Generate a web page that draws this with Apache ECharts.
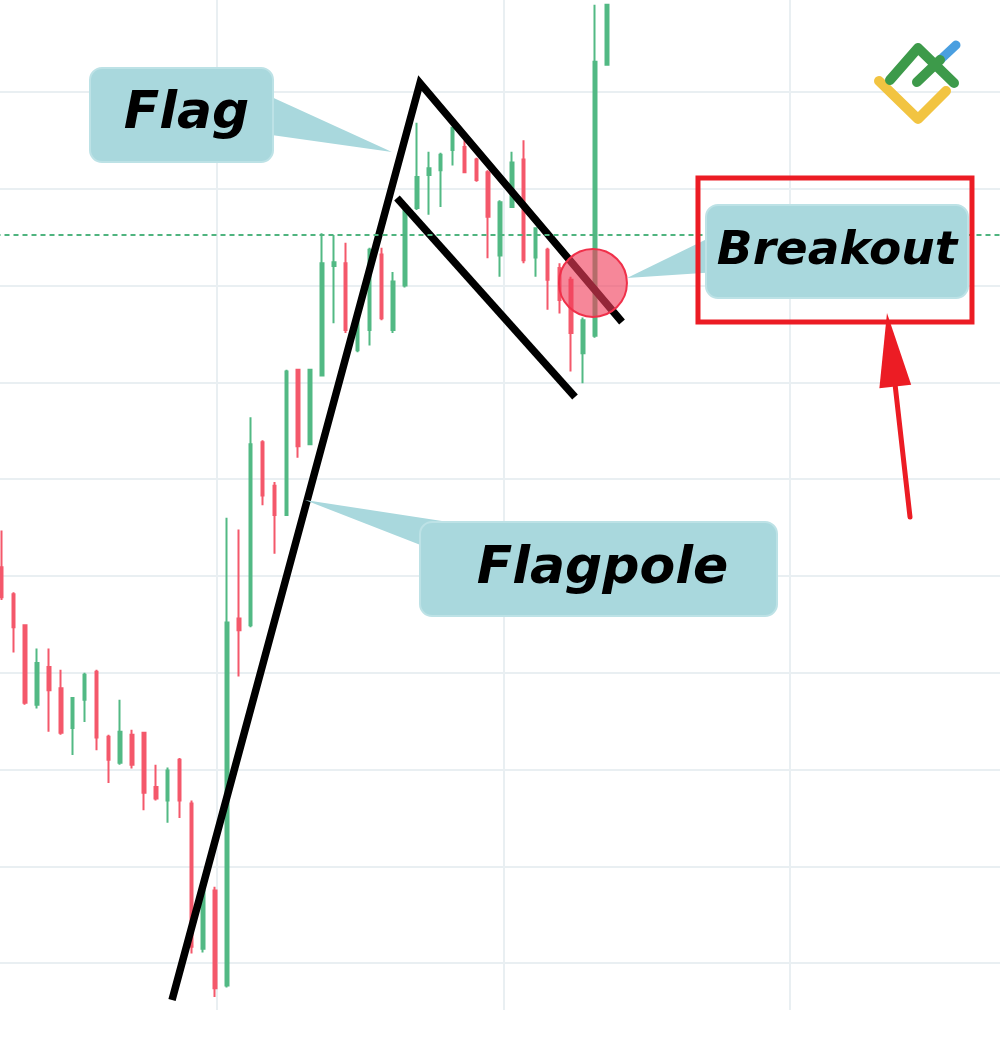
<!DOCTYPE html>
<html>
<head>
<meta charset="utf-8">
<script src="https://cdn.jsdelivr.net/npm/echarts@6/dist/echarts.min.js"></script>
<style>
html,body{margin:0;padding:0;background:#ffffff;}
#chart{width:1000px;height:1040px;}
</style>
</head>
<body>
<div id="chart"></div>
<script>
// ---------------- DATA ----------------
// 85 category slots (candles occupy the first 52)
const categories = Array.from({length: 85}, (_, i) => 'Bar ' + (i + 1));

const opens  = [50.9,48.1,44.9,36.7,40.6,38.4,34.3,37.2,40.1,33.4,30.7,33.6,33.8,28.2,26.8,31.0,26.5,11.5,17.5,7.7,45.6,44.9,63.8,59.3,56.3,71.3,63.6,70.7,82.0,82.3,73.3,75.4,83.2,75.4,80.0,88.0,91.4,91.9,94.0,94.3,93.0,91.7,83.1,88.1,93.0,82.9,83.7,81.8,80.6,73.0,74.8,102.8];
const closes = [47.8,44.7,36.9,41.0,38.2,33.8,37.4,39.8,33.3,31.0,33.9,30.5,27.6,27.0,29.9,26.8,11.7,17.5,7.4,45.2,44.4,63.6,58.3,56.3,71.1,63.4,71.3,82.3,82.4,75.4,76.6,83.7,76.6,80.4,87.8,91.2,92.1,93.5,96.3,91.7,90.9,87.1,88.6,92.7,82.6,85.9,80.6,78.5,75.1,76.4,103.1,109.0];
const lows   = [47.5,42.1,36.7,36.3,33.9,33.6,31.5,34.9,32.0,28.6,30.5,30.1,25.8,26.8,24.5,25.0,11.0,11.1,6.5,7.5,39.6,44.7,57.3,52.3,56.2,62.2,63.5,70.6,76.1,75.1,73.1,73.8,76.4,75.1,79.8,87.8,87.3,88.1,92.4,91.6,90.7,82.8,80.9,88.0,82.3,80.9,77.5,77.1,71.1,69.9,74.6,102.8];
const highs  = [54.7,48.3,45.0,42.5,42.5,40.3,37.5,40.0,40.3,33.6,37.2,34.1,33.9,30.5,30.2,31.2,26.8,18.1,17.9,56.0,54.8,66.4,64.0,59.7,71.3,71.4,71.4,85.4,85.2,84.4,77.5,83.9,83.9,81.4,88.1,96.8,93.8,93.7,96.4,95.0,93.2,91.9,88.8,93.8,95.0,86.0,83.9,82.3,80.9,76.7,109.0,109.0];

// price axis ticks
const priceMin = 0, priceMax = 110, priceStep = 10;
// dashed resistance level
const resistanceLevel = 85.2;

// annotations, in data units: [bar index, price]
const flagpoleAndFlagTop = [[14.37, 6.2], [35.26, 100.91], [52.28, 76.23]];
const flagBottom = [[33.32, 89.03], [48.32, 68.48]];
const breakoutPoint = [49.83, 80.25];
const arrowTail = [76.54, 56.08];
const arrowTip = [74.60, 77.16];
const frameCenter = [70.22, 83.66];
const calloutLabels = ['Flag', 'Flagpole', 'Breakout'];
const calloutCenters = [[15.17, 97.61], [50.30, 50.71], [70.39, 83.51]];
const calloutTips = [[32.90, 93.78], [25.57, 57.84], [52.70, 80.77]];

// ---------------- STYLE ----------------
const UP = '#52b984';
const DOWN = '#f4586b';
const TEAL = '#a9d8dd';
const GRIDC = '#e9eff2';
const boxSize = [[183, 94], [357, 94], [262, 93]];
const boxBase = [[[90, -18], [90, 20]], [[-150, -47], [-178, -24]], [[-127, -14], [-127, 21]]];
const boxFont = [52, 52, 47];
const boxTextDx = [5, 4, 0];

const candleData = opens.map((o, i) => [o, closes[i], lows[i], highs[i]]);

const chart = echarts.init(document.getElementById('chart'), null, {renderer: 'canvas'});

const option = {
  animation: false,
  backgroundColor: '#ffffff',
  grid: [
    {left: -4.5, right: -4.5, top: -5, bottom: -20, containLabel: false, outerBoundsMode: 'none'},
    {left: -69.5, right: -76.5, top: 0, bottom: 30, containLabel: false, outerBoundsMode: 'none'}
  ],
  xAxis: [
    {type: 'category', gridIndex: 0, data: categories, boundaryGap: true, show: false},
    {type: 'value', gridIndex: 0, min: -0.5, max: 84.5, show: false},
    {type: 'value', gridIndex: 1, min: 0, max: 4, interval: 1, show: true,
      axisLine: {show: false}, axisTick: {show: false}, axisLabel: {show: false},
      splitLine: {show: true, lineStyle: {color: GRIDC, width: 2}}}
  ],
  yAxis: [
    {type: 'value', gridIndex: 0, min: priceMin, max: priceMax, interval: priceStep, show: true,
      axisLine: {show: false}, axisTick: {show: false}, axisLabel: {show: false},
      splitLine: {show: true, lineStyle: {color: GRIDC, width: 2}}},
    {type: 'value', gridIndex: 1, min: 0, max: 1, show: false}
  ],
  graphic: [
    {type: 'polyline', z: 100, shape: {points: [[879, 81], [918, 119], [946, 91]]},
      style: {stroke: '#f2c441', lineWidth: 10, lineCap: 'round', lineJoin: 'round', fill: null}},
    {type: 'polyline', z: 100, shape: {points: [[890, 80], [918, 48], [954, 83]]},
      style: {stroke: '#3d9a4a', lineWidth: 10, lineCap: 'round', lineJoin: 'round', fill: null}},
    {type: 'line', z: 100, shape: {x1: 917, y1: 82, x2: 940, y2: 60},
      style: {stroke: '#3d9a4a', lineWidth: 10, lineCap: 'round'}},
    {type: 'line', z: 99, shape: {x1: 940, y1: 60, x2: 956, y2: 45},
      style: {stroke: '#4a9fe0', lineWidth: 9, lineCap: 'round'}}
  ],
  series: [
    {
      type: 'candlestick', xAxisIndex: 0, yAxisIndex: 0, z: 2,
      data: candleData,
      barWidth: 3,
      itemStyle: {color: UP, color0: DOWN, borderColor: UP, borderColor0: DOWN, borderWidth: 2},
      markLine: {
        silent: true, symbol: 'none', label: {show: false},
        lineStyle: {color: '#4fb47f', type: [5, 4], width: 2},
        data: [{yAxis: resistanceLevel}]
      }
    },
    {
      type: 'custom', xAxisIndex: 1, yAxisIndex: 0, z: 3, silent: true,
      data: [[0, 0], [1, 0]],
      renderItem: function (params, api) {
        const pts = (params.dataIndex === 0 ? flagpoleAndFlagTop : flagBottom).map(p => api.coord(p));
        return {type: 'polyline', shape: {points: pts},
          style: {stroke: '#000000', lineWidth: 7.5, fill: null, lineJoin: 'miter', lineCap: 'butt'}};
      }
    },
    {
      type: 'custom', xAxisIndex: 1, yAxisIndex: 0, z: 4, silent: true,
      data: [breakoutPoint],
      renderItem: function (params, api) {
        const c = api.coord(breakoutPoint);
        return {type: 'circle', shape: {cx: c[0], cy: c[1], r: 34},
          style: {fill: 'rgba(240,62,90,0.62)', stroke: '#f0304a', lineWidth: 2}};
      }
    },
    {
      type: 'custom', xAxisIndex: 1, yAxisIndex: 0, z: 5, silent: true,
      data: calloutCenters,
      renderItem: function (params, api) {
        const i = params.dataIndex;
        const c = api.coord(calloutCenters[i]);
        const t = api.coord(calloutTips[i]);
        const w = boxSize[i][0], h = boxSize[i][1];
        const b = boxBase[i];
        return {type: 'group', children: [
          {type: 'polygon', shape: {points: [t, [c[0] + b[0][0], c[1] + b[0][1]], [c[0] + b[1][0], c[1] + b[1][1]]]},
            style: {fill: TEAL}},
          {type: 'rect', shape: {x: c[0] - w / 2, y: c[1] - h / 2, width: w, height: h, r: 12},
            style: {fill: TEAL, stroke: '#bde2e6', lineWidth: 2}},
          {type: 'text', x: c[0] + boxTextDx[i], y: c[1],
            style: {text: calloutLabels[i], fill: '#000000',
              font: 'italic bold ' + boxFont[i] + 'px "DejaVu Sans"',
              align: 'center', verticalAlign: 'middle'}}
        ]};
      }
    },
    {
      type: 'custom', xAxisIndex: 1, yAxisIndex: 0, z: 6, silent: true,
      data: [frameCenter],
      renderItem: function (params, api) {
        const c = api.coord(frameCenter);
        const a = api.coord(arrowTail), tip = api.coord(arrowTip);
        const dx = tip[0] - a[0], dy = tip[1] - a[1];
        const L = Math.hypot(dx, dy), ux = dx / L, uy = dy / L;
        const headLen = 74, half = 16;
        const base = [tip[0] - ux * headLen, tip[1] - uy * headLen];
        const px = -uy, py = ux;
        return {type: 'group', children: [
          {type: 'rect', shape: {x: c[0] - 137, y: c[1] - 72, width: 274, height: 144},
            style: {fill: null, stroke: '#ec1c24', lineWidth: 5}},
          {type: 'line', shape: {x1: a[0], y1: a[1], x2: base[0] + ux * 4, y2: base[1] + uy * 4},
            style: {stroke: '#ec1c24', lineWidth: 5, lineCap: 'round'}},
          {type: 'polygon', shape: {points: [tip, [base[0] + px * half, base[1] + py * half], [base[0] - px * half, base[1] - py * half]]},
            style: {fill: '#ec1c24'}}
        ]};
      }
    }
  ]
};
chart.setOption(option);
</script>
</body>
</html>
